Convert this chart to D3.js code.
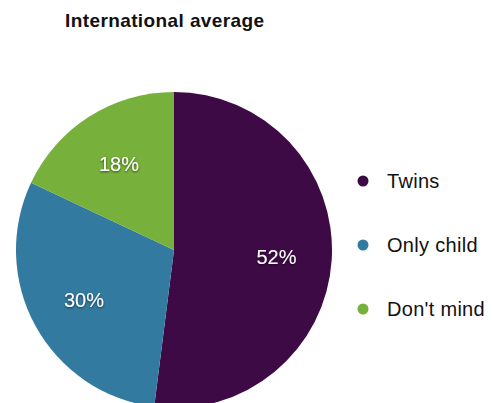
<!DOCTYPE html>
<html>
<head>
<meta charset="utf-8">
<script src="https://cdn.jsdelivr.net/npm/d3@7"></script>
<style>
  body { margin: 0; background: #fff; }
  text { font-family: "Liberation Sans", Arial, sans-serif; }
</style>
</head>
<body>
<div id="chart"></div>
<script>
// data
const categories = ["Twins", "Only child", "Don't mind"];
const shares = [52, 30, 18];
const colors = ["#3d0a45", "#337aa0", "#77b03a"];

const width = 492, height = 403;
const cx = 174, cy = 250, radius = 158;

const svg = d3.select("#chart").append("svg")
  .attr("width", width)
  .attr("height", height);

// soft shadow under the slice labels
const filt = svg.append("defs").append("filter")
  .attr("id", "shadow")
  .attr("x", "-20%").attr("y", "-20%")
  .attr("width", "140%").attr("height", "140%");
filt.append("feDropShadow")
  .attr("dx", 0).attr("dy", 1)
  .attr("stdDeviation", 1)
  .attr("flood-color", "#000")
  .attr("flood-opacity", 0.6);

svg.append("text")
  .attr("x", 65)
  .attr("y", 27)
  .attr("font-size", "19px")
  .attr("font-weight", "bold")
  .attr("letter-spacing", "0.4px")
  .attr("fill", "#111")
  .text("International average");

const rows = categories.map((c, i) => ({name: c, value: shares[i], color: colors[i]}));

const pie = d3.pie().sort(null).value(d => d.value);
const arc = d3.arc().innerRadius(0).outerRadius(radius);
const labelArc = d3.arc().innerRadius(radius * 0.65).outerRadius(radius * 0.65);

const g = svg.append("g").attr("transform", `translate(${cx},${cy})`);

g.selectAll("path")
  .data(pie(rows))
  .join("path")
    .attr("d", arc)
    .attr("fill", d => d.data.color);

g.selectAll("text")
  .data(pie(rows))
  .join("text")
    .attr("transform", d => `translate(${labelArc.centroid(d)})`)
    .attr("text-anchor", "middle")
    .attr("dy", "0.38em")
    .attr("font-size", "20px")
    .attr("fill", "#fff")
    .attr("filter", "url(#shadow)")
    .text(d => d.data.value + "%");

// legend
const legendY = d3.scalePoint().domain(categories).range([181, 309]);

const leg = svg.append("g").selectAll("g")
  .data(rows)
  .join("g")
    .attr("transform", d => `translate(363,${legendY(d.name)})`);

leg.append("circle")
  .attr("r", 5.5)
  .attr("fill", d => d.color);

leg.append("text")
  .attr("x", 24)
  .attr("dy", "0.35em")
  .attr("font-size", "20px")
  .attr("letter-spacing", "0.3px")
  .attr("fill", "#111")
  .text(d => d.name);
</script>
</body>
</html>
